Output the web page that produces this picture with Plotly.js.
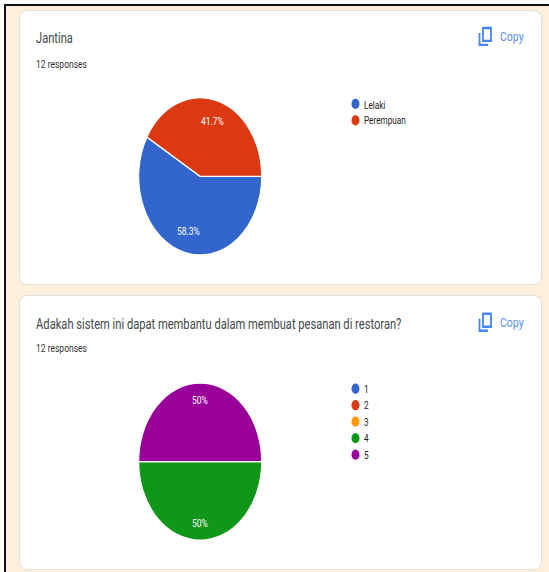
<!DOCTYPE html>
<html>
<head>
<meta charset="utf-8">
<script src="https://cdn.plot.ly/plotly-3.0.1.min.js"></script>
<style>
  html, body { margin: 0; padding: 0; background: #fff; overflow: hidden; }
  #page { position: absolute; left: 0; top: 0; width: 549px; height: 572px; overflow: hidden; background: #fff; }
  #frame { position: absolute; left: 4px; top: 4px; width: 545px; height: 568px; box-sizing: border-box;
           border-left: 2px solid #111; border-top: 2px solid #111; background: #fdefdb; }
  .card { position: absolute; left: 19px; width: 523px; background: #fff; box-sizing: border-box;
          border: 1px solid #e2e0dc; border-radius: 8px; }
  #chart { position: absolute; left: 0; top: 0; width: 549px; transform-origin: 0 0; }
</style>
</head>
<body>
<div id="page">
  <div id="frame"></div>
  <div class="card" style="top:10px;height:275px"></div>
  <div class="card" style="top:295px;height:275px"></div>
  <div id="chart"></div>
</div>
<script>
// Survey summary: two pie charts on form-response cards
const genderQuestion = 'Jantina';
const genderLabels = ['Lelaki', 'Perempuan'];
const genderCounts = [7, 5];

const ratingQuestion = 'Adakah sistem ini dapat membantu dalam membuat pesanan di restoran?';
const ratingLabels = ['1', '2', '3', '4', '5'];
const ratingCounts = [0, 0, 0, 6, 6];

const sliceColors = ['#3366cc', '#dc3912', '#ff9900', '#109618', '#990099'];
const responsesText = '12 responses';
const copyText = 'Copy';

// The whole drawing is stretched vertically, so pies render as ellipses
const W = 549, H = 572, STRETCH = 156 / 122;
const plotH = H / STRETCH;
const px = x => x / W;
const py = y => 1 - (y / STRETCH) / plotH;

const RADIUS = 61.5;
const cards = [
  {question: genderQuestion, labels: genderLabels, counts: genderCounts, cx: 200.2, cy: 176.5, labelR: 0.72, titleY: 38.4, subY: 62.4, iconY: 27, legendY: 103.4},
  {question: ratingQuestion, labels: ratingLabels, counts: ratingCounts, cx: 200.2, cy: 462, labelR: 0.78, titleY: 323.4, subY: 347.4, iconY: 313, legendY: 388.4}
];

const data = [], annotations = [], shapes = [];
const textFont = 'Roboto, Arial, sans-serif';

function label(text, x, y, size, color, anchor) {
  // Nudged down one pixel to centre the glyphs on the requested line
  annotations.push({text, x: px(x), y: py(y + 1), xref: 'paper', yref: 'paper', showarrow: false,
    xanchor: anchor || 'left', yanchor: 'middle', borderpad: 0,
    font: {family: textFont, size, color}});
}

cards.forEach(card => {
  const total = card.counts.reduce((a, b) => a + b, 0);
  data.push({
    type: 'pie', labels: card.labels, values: card.counts, sort: false, direction: 'clockwise', rotation: 90,
    textinfo: 'none', hoverinfo: 'label+percent', showlegend: false,
    marker: {colors: sliceColors, line: {color: '#ffffff', width: 1}},
    domain: {x: [px(card.cx - RADIUS), px(card.cx + RADIUS)],
             y: [py(card.cy) - RADIUS / plotH, py(card.cy) + RADIUS / plotH]}
  });

  // Percent labels sit on each slice's mid-angle, most of the way out
  let start = 90;
  card.counts.forEach((v, i) => {
    if (!v) return;
    const sweep = v / total * 360, mid = (start + sweep / 2) * Math.PI / 180;
    start += sweep;
    const pct = Math.round(v / total * 1000) / 10;
    label(pct + '%', card.cx + Math.sin(mid) * RADIUS * 0.76,
      card.cy - 1 - Math.cos(mid) * RADIUS * STRETCH * card.labelR, 8.5, '#ffffff', 'center');
  });

  label(card.question, 35, card.titleY, 11.15, '#44474a');
  label(responsesText, 35, card.subY, 8.5, '#333333');
  label(copyText, 498.5, card.iconY + 9, 10.5, '#5a8ff0');

  // Copy icon
  const iconLine = {color: '#4285f4', width: 1.8};
  const ix = px(483), iy = card.iconY + 1;
  shapes.push({type: 'rect', xref: 'paper', yref: 'paper', x0: ix, x1: px(491), y0: py(iy), y1: py(iy + 13), line: iconLine});
  shapes.push({type: 'path', xref: 'paper', yref: 'paper', line: iconLine,
    path: `M ${px(479.5)} ${py(iy + 5)} L ${px(479.5)} ${py(iy + 17)} L ${px(488)} ${py(iy + 17)}`});

  // Legend entries with round swatches
  const swatchY = card.legendY + 0.6;
  card.labels.forEach((name, i) => {
    const y = swatchY + i * 16.5;
    const rx = 4 / W, ry = 4 / plotH;
    shapes.push({type: 'circle', xref: 'paper', yref: 'paper', x0: px(355.5) - rx, x1: px(355.5) + rx,
      y0: py(y) - ry, y1: py(y) + ry, fillcolor: sliceColors[i], line: {width: 0}});
    label(name, 362.5, y - 0.6, 8.2, '#222222');
  });
});

const chart = document.getElementById('chart');
chart.style.height = plotH + 'px';
chart.style.transform = `scaleY(${STRETCH})`;

Plotly.newPlot(chart, data, {
  width: W, height: plotH, margin: {l: 0, r: 0, t: 0, b: 0},
  paper_bgcolor: 'rgba(0,0,0,0)', plot_bgcolor: 'rgba(0,0,0,0)',
  showlegend: false, annotations, shapes
}, {displayModeBar: false, staticPlot: true});
</script>
</body>
</html>
